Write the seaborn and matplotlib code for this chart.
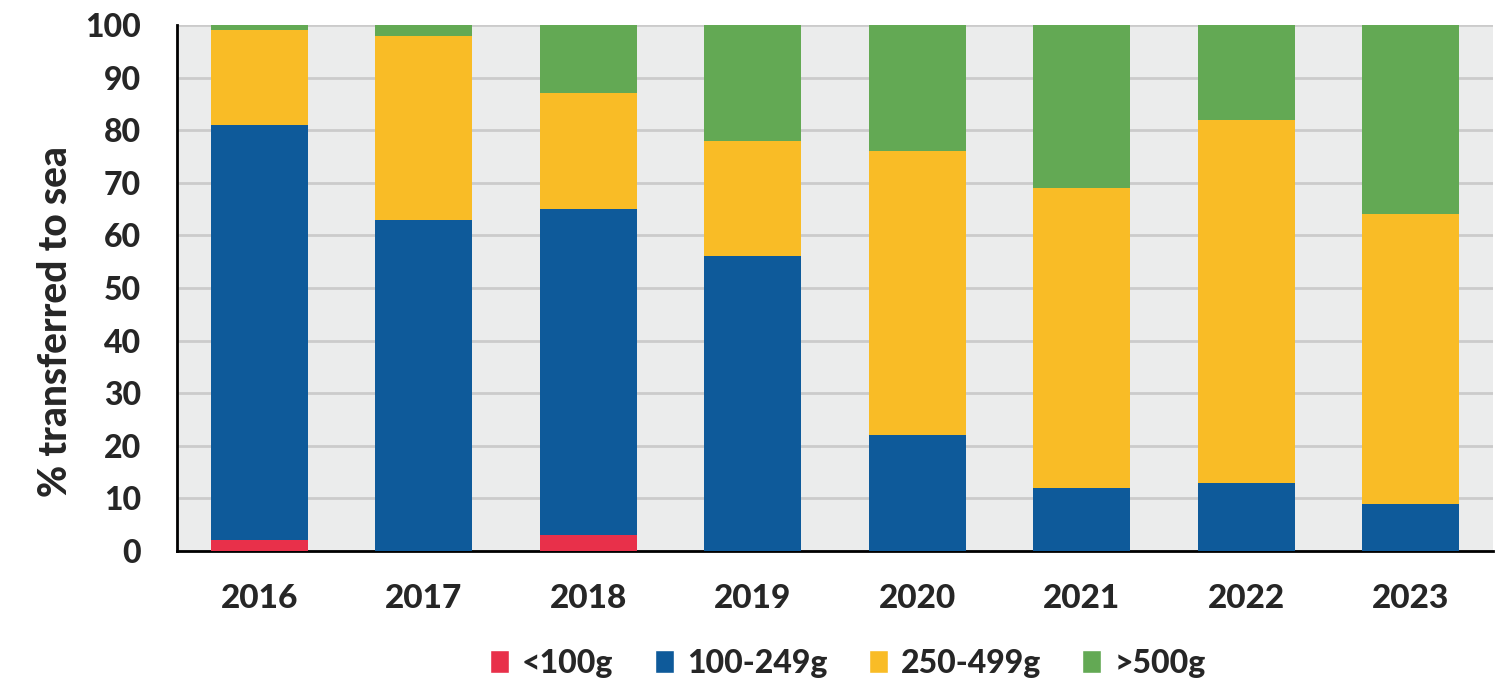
import numpy as np
import pandas as pd
import matplotlib.pyplot as plt
from matplotlib.patches import Patch
import seaborn as sns

# data (percent of fish transferred to sea per size class)
years = ['2016', '2017', '2018', '2019', '2020', '2021', '2022', '2023']
size_classes = ['<100g', '100-249g', '250-499g', '>500g']
lt100 = [2, 0, 3, 0, 0, 0, 0, 0]
s100_249 = [79, 63, 62, 56, 22, 12, 13, 9]
s250_499 = [18, 35, 22, 22, 54, 57, 69, 55]
gt500 = [1, 2, 13, 22, 24, 31, 18, 36]
colours = ['#E8304A', '#0E5A9A', '#F9BC26', '#63A954']

sns.set_theme(style="white")
plt.rcParams['font.family'] = ['Lato', 'DejaVu Sans']
W = 'black'

df = pd.DataFrame({'Year': years, '<100g': lt100, '100-249g': s100_249,
                   '250-499g': s250_499, '>500g': gt500})
# cumulative tops so each layer can be drawn behind the previous one
cum = df[size_classes].cumsum(axis=1)

fig = plt.figure(figsize=(14.95, 6.98), dpi=100)
ax = fig.add_axes([0.1184, 0.2106, 0.8803, 0.7536])
ax.set_facecolor('#EBECEC')

for cls, col in reversed(list(zip(size_classes, colours))):
    sns.barplot(x=df['Year'], y=cum[cls], color=col, width=0.59,
                saturation=1, linewidth=0, edgecolor='none', ax=ax, zorder=3)

ax.set_ylim(0, 100)
ax.set_xlim(-0.5, 7.5)
ax.yaxis.grid(True, color='#CBCBCB', linewidth=2, zorder=0)
ax.xaxis.grid(False)
ax.set_axisbelow(True)

for s in ['top', 'right']:
    ax.spines[s].set_visible(False)
for s in ['left', 'bottom']:
    ax.spines[s].set_color('black')
    ax.spines[s].set_linewidth(2)

ax.set_yticks(range(0, 101, 10))
ax.set_yticklabels([str(v) for v in range(0, 101, 10)], fontweight=W, fontsize=23)
ax.tick_params(axis='y', direction='out', length=7, width=2, color='black', pad=19)

ax.set_xticks(range(len(years)))
ax.set_xticklabels(years, fontweight=W, fontsize=24)
ax.set_xticks(np.arange(-0.5, len(years), 1), minor=True)
ax.tick_params(axis='x', which='major', length=0, pad=24)
ax.tick_params(axis='x', which='minor', direction='out', length=9, width=2, color='black')

ax.set_xlabel('')
ax.set_ylabel('% transferred to sea', fontweight=W, fontsize=28)
ax.yaxis.set_label_coords(-0.078, 0.437)

handles = [Patch(facecolor=c, label=l) for l, c in zip(size_classes, colours)]
leg = fig.legend(handles=handles, loc='center', bbox_to_anchor=(0.567, 0.05), ncol=4,
                 frameon=False, handlelength=0.6, handleheight=0.7, handletextpad=0.4,
                 columnspacing=1.3, prop={'family': 'Lato', 'weight': W, 'size': 23})

fig.savefig('out.png', dpi=100)
